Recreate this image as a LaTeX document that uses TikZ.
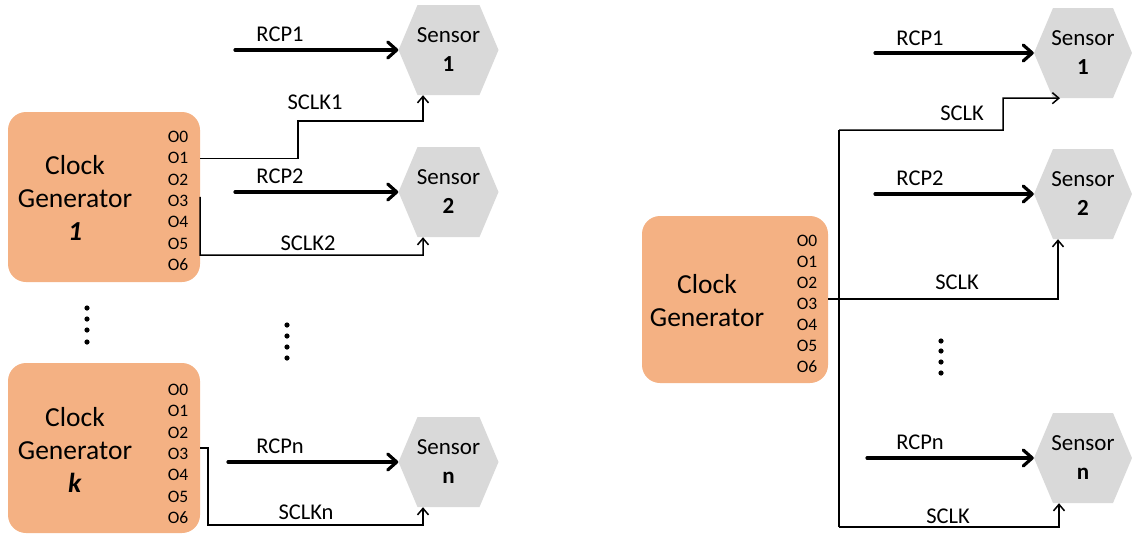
\documentclass[tikz,border=0pt]{standalone}
\usepackage{fontspec}
\setmainfont{Carlito}
\usetikzlibrary{arrows.meta,calc}
\definecolor{genfill}{HTML}{F4B183}
\definecolor{sensfill}{HTML}{D9D9D9}
\tikzset{
  gen/.style={fill=genfill, rounded corners=18pt, minimum width=192pt, minimum height=170pt, inner sep=0pt},
  gentext/.style={align=center, font=\fontsize{27.5}{33}\selectfont, inner sep=0pt},
  olbl/.style={font=\fontsize{17.5}{20}\selectfont, inner sep=0pt},
  lbl/.style={font=\fontsize{22.5}{25}\selectfont, inner sep=0pt},
  sensor/.style={minimum width=100pt, minimum height=90pt, inner sep=0pt, align=center,
    font=\fontsize{23}{29}\selectfont,
    path picture={\fill[sensfill]
      (path picture bounding box.west)
      -- ([xshift=19pt]path picture bounding box.north west)
      -- ([xshift=-19pt]path picture bounding box.north east)
      -- (path picture bounding box.east)
      -- ([xshift=-19pt]path picture bounding box.south east)
      -- ([xshift=19pt]path picture bounding box.south west) -- cycle;}},
  rcp/.style={line width=3.2pt, line cap=round, -{Straight Barb[length=9pt,width=16pt,round]}},
  clk/.style={line width=1.5pt, -{Straight Barb[length=6.5pt,width=11pt]}},
  wire/.style={line width=1.5pt},
  dot/.style={fill=black}
}
\begin{document}
\begin{tikzpicture}[x=1pt,y=-1pt]
\useasboundingbox (0,0) rectangle (1132,536);

% ---------- left panel ----------
\node[gen] (g1) at (104,197) {};
\node[gentext] (g1t) at (75,198) {Clock\\Generator\\\textbf{\textit{1}}};
\foreach \i in {0,...,6} \node[olbl] (g1o\i) at (178,137+21.3*\i) {O\i};

\node[gen] (g2) at (104,448) {};
\node[gentext] (g2t) at (75,450) {Clock\\Generator\\\textbf{\textit{k}}};
\foreach \i in {0,...,6} \node[olbl] (g2o\i) at (178,390+21.3*\i) {O\i};

\node[sensor] (s1) at (448.5,50) {Sensor\\\textbf{1}};
\node[sensor] (s2) at (448.5,192) {Sensor\\\textbf{2}};
\node[sensor] (s3) at (448.5,462) {Sensor\\\textbf{n}};

\coordinate (r1) at (235,50);
\coordinate (r2) at (235,192);
\coordinate (r3) at (228,462);
\draw[rcp] (r1) -- (s1.west);
\draw[rcp] (r2) -- (s2.west);
\draw[rcp] (r3) -- (s3.west);
\node[lbl] (l1) at (280,34) {RCP1};
\node[lbl] (l2) at (280,176) {RCP2};
\node[lbl] (l3) at (280,446) {RCPn};

\draw[clk] (g1.east |- g1o1) -| (298,121) -| ([xshift=-25.5pt]s1.south);
\coordinate (c2) at (200,255);
\draw[clk] ([yshift=4pt]g1.east |- g1o3) -- (c2) -| ([xshift=-25.5pt]s2.south);
\draw[clk] ([yshift=6pt]g2.east |- g2o3) -| (208,525) -| ([xshift=-25.5pt]s3.south);
\node[lbl] (k1) at (315,102) {SCLK1};
\node[lbl] (k2) at (308,243) {SCLK2};
\node[lbl] (k3) at (306,512) {SCLKn};

\foreach \y in {308,319,330,342} \fill[dot] (87,\y) circle (2.6);
\foreach \y in {325,336,347,358} \fill[dot] (287,\y) circle (2.6);

% ---------- right panel ----------
\node[gen, minimum width=186pt, minimum height=167pt] (g3) at (735,299.5) {};
\node[gentext] (g3t) at (707,300.5) {Clock\\Generator};
\foreach \i in {0,...,6} \node[olbl] (g3o\i) at (807,241+21*\i) {O\i};

\node[sensor, minimum width=98pt] (t1) at (1083,53) {Sensor\\\textbf{1}};
\node[sensor, minimum width=98pt] (t2) at (1083,194) {Sensor\\\textbf{2}};
\node[sensor, minimum width=98pt] (t3) at (1083,458) {Sensor\\\textbf{n}};

\coordinate (q1) at (875,53);
\coordinate (q2) at (875,194);
\coordinate (q3) at (867,458);
\draw[rcp] (q1) -- (t1.west);
\draw[rcp] (q2) -- (t2.west);
\draw[rcp] (q3) -- (t3.west);
\node[lbl] (m1) at (920,38) {RCP1};
\node[lbl] (m2) at (920,178) {RCP2};
\node[lbl] (m3) at (920,442) {RCPn};

\coordinate (busT) at (839,130);
\coordinate (busB) at (839,527);
\draw[clk] ([yshift=5pt]g3.east |- g3o3) -| ([xshift=-25pt]t2.south);
\draw[wire] (busB) -- (busT);
\draw[clk] (busT) -| (1003,98) -- ([xshift=-23pt]t1.south);
\draw[clk] (busB) -| ([xshift=-24pt]t3.south);
\node[lbl] (n1) at (962,113) {SCLK};
\node[lbl] (n2) at (957,282) {SCLK};
\node[lbl] (n3) at (948,516) {SCLK};

\foreach \y in {341,351,362,373} \fill[dot] (941,\y) circle (2.6);
\end{tikzpicture}
\end{document}
